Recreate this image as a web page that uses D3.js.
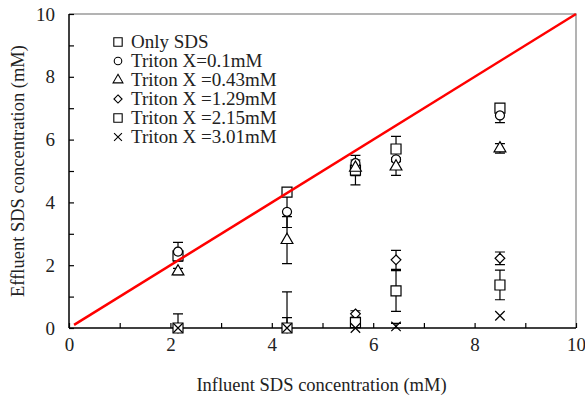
<!DOCTYPE html>
<html>
<head>
<meta charset="utf-8">
<script src="https://cdn.jsdelivr.net/npm/d3@7"></script>
<style>
  body { margin:0; background:#fff; }
  text { font-family:"Liberation Serif","Times New Roman",serif; fill:#222; }
</style>
</head>
<body>
<svg id="chart"></svg>
<script>
// influent concentrations (x) for every series
var influent = [2.15, 4.3, 5.65, 6.45, 8.5];

var seriesNames = ["Only SDS", "Triton X=0.1mM", "Triton X =0.43mM",
                   "Triton X =1.29mM", "Triton X =2.15mM", "Triton X =3.01mM"];
var onlySDS   = [2.3, 4.33, 5.03, 5.7, 7.0];
var onlySDSerr= [0, 0, 0.47, 0.4, 0];
var tx01      = [2.43, 3.7, 5.25, 5.37, 6.77];
var tx01err   = [0.3, 0.5, 0, 0, 0.23];
var tx043     = [1.8, 2.8, 5.1, 5.14, 5.72];
var tx043err  = [0.1, 0.75, 0.25, 0.28, 0.15];
var tx129     = [0, 0, 0.45, 2.17, 2.22];
var tx129err  = [0, 0, 0.1, 0.3, 0.2];
var tx215     = [0, 0, 0.17, 1.18, 1.37];
var tx215err  = [0.45, 1.15, 0, 0.65, 0.47];
var tx301     = [0, 0, 0, 0.05, 0.39];
var tx301err  = [0, 0.33, 0, 0.1, 0];

var xTicks = [0, 2, 4, 6, 8, 10];
var yTicks = [0, 2, 4, 6, 8, 10];
var refLine = [[0.1, 0.1], [10, 10]];

makeChart(585, 398, "svg#chart");

function makeChart(w, h, svgName) {
  var svg = d3.select(svgName).attr("width", w).attr("height", h);

  var margins = {left:69, right:9, top:14, bottom:70};
  var width = w - margins.left - margins.right;
  var height = h - margins.top - margins.bottom;

  var xScale = d3.scaleLinear().domain([0,10]).range([0,width]);
  var yScale = d3.scaleLinear().domain([0,10]).range([height,0]);

  var plot = svg.append("g")
                .attr("transform","translate("+margins.left+","+margins.top+")");

  var symbols = [d3.symbolSquare, d3.symbolCircle, d3.symbolTriangle,
                 d3.symbolDiamond2 || d3.symbolDiamond, d3.symbolSquare,
                 d3.symbolTimes || d3.symbolX];
  var sizes = [100, 64, 60, 60, 100, 60];

  var series = [
    {vals:onlySDS, err:onlySDSerr},
    {vals:tx01, err:tx01err},
    {vals:tx043, err:tx043err},
    {vals:tx129, err:tx129err},
    {vals:tx215, err:tx215err},
    {vals:tx301, err:tx301err}
  ].map(function(s,i){
    return {name:seriesNames[i], sym:symbols[i], size:sizes[i],
            pts:influent.map(function(x,j){ return {x:x, y:s.vals[j], e:s.err[j]}; })};
  });

  // frame: gray top/right
  plot.append("path")
      .attr("d","M0,0H"+width+"V"+height)
      .attr("fill","none").attr("stroke","#9a9a9a").attr("stroke-width",1.5);

  // axes with inward ticks
  var xAxis = d3.axisBottom(xScale).tickValues(d3.range(0,11,1))
                .tickSize(-5).tickPadding(10)
                .tickFormat(function(d){ return xTicks.indexOf(d)>=0 ? d : ""; });
  var gx = plot.append("g").attr("transform","translate(0,"+height+")").call(xAxis);

  var yAxis = d3.axisLeft(yScale).tickValues(d3.range(0,11,1))
                .tickSize(-5).tickPadding(14)
                .tickFormat(function(d){ return yTicks.indexOf(d)>=0 ? d : ""; });
  var gy = plot.append("g").call(yAxis);

  [gx, gy].forEach(function(g){
    g.select(".domain").attr("stroke","#000").attr("stroke-width",1.5);
    g.selectAll(".tick line").attr("stroke","#000").attr("stroke-width",1.2);
    g.selectAll(".tick text").style("font-size","19px")
     .style("font-family","'Liberation Serif',serif").attr("fill","#222");
  });
  gx.selectAll(".tick text").attr("dy","0.71em");
  gy.select(".domain").attr("d","M0,"+height+"V0");
  gx.select(".domain").attr("d","M0,0H"+width);

  // error bars
  series.forEach(function(s){
    var eb = plot.append("g").attr("stroke","#000").attr("stroke-width",1.2).attr("fill","none");
    s.pts.filter(function(p){ return p.e>0; }).forEach(function(p){
      var cx = xScale(p.x), y1 = yScale(Math.max(0,p.y-p.e)), y2 = yScale(p.y+p.e);
      eb.append("path").attr("d","M"+cx+","+y1+"V"+y2+
        "M"+(cx-5)+","+y2+"H"+(cx+5)+
        (p.y-p.e>0 ? "M"+(cx-5)+","+y1+"H"+(cx+5) : ""));
    });
  });

  // markers
  series.forEach(function(s){
    plot.append("g").selectAll("path")
        .data(s.pts).enter().append("path")
        .attr("d", d3.symbol().type(s.sym).size(s.size))
        .attr("transform",function(d){ return "translate("+xScale(d.x)+","+yScale(d.y)+")"; })
        .attr("fill", s.sym===(d3.symbolTimes||d3.symbolX) ? "none" : "#fff")
        .attr("stroke","#000").attr("stroke-width",1.2);
  });

  // red 1:1 line
  plot.append("line")
      .attr("x1",xScale(refLine[0][0])).attr("y1",yScale(refLine[0][1]))
      .attr("x2",xScale(refLine[1][0])).attr("y2",yScale(refLine[1][1]))
      .attr("stroke","#ff0000").attr("stroke-width",2.5);

  // legend
  var legend = svg.append("g").attr("transform","translate(118,42)");
  var rows = legend.selectAll("g").data(series).enter().append("g")
                   .attr("transform",function(d,i){ return "translate(0,"+(19*i)+")"; });
  rows.append("path")
      .attr("d",function(d){ return d3.symbol().type(d.sym).size(d.size*0.7)(); })
      .attr("fill","none").attr("stroke","#000").attr("stroke-width",1.1);
  rows.append("text").attr("x",13).attr("y",6)
      .style("font-size","19px").text(function(d){ return d.name; });

  // axis titles
  svg.append("text")
     .attr("x", margins.left + width/2 - 1).attr("y", 391)
     .attr("text-anchor","middle").style("font-size","18.5px")
     .text("Influent SDS concentration (mM)");
  svg.append("text")
     .attr("transform","translate(24,"+(margins.top+height/2)+") rotate(-90)")
     .attr("text-anchor","middle").style("font-size","18.5px")
     .text("Effluent SDS concentration (mM)");
}
</script>
</body>
</html>
